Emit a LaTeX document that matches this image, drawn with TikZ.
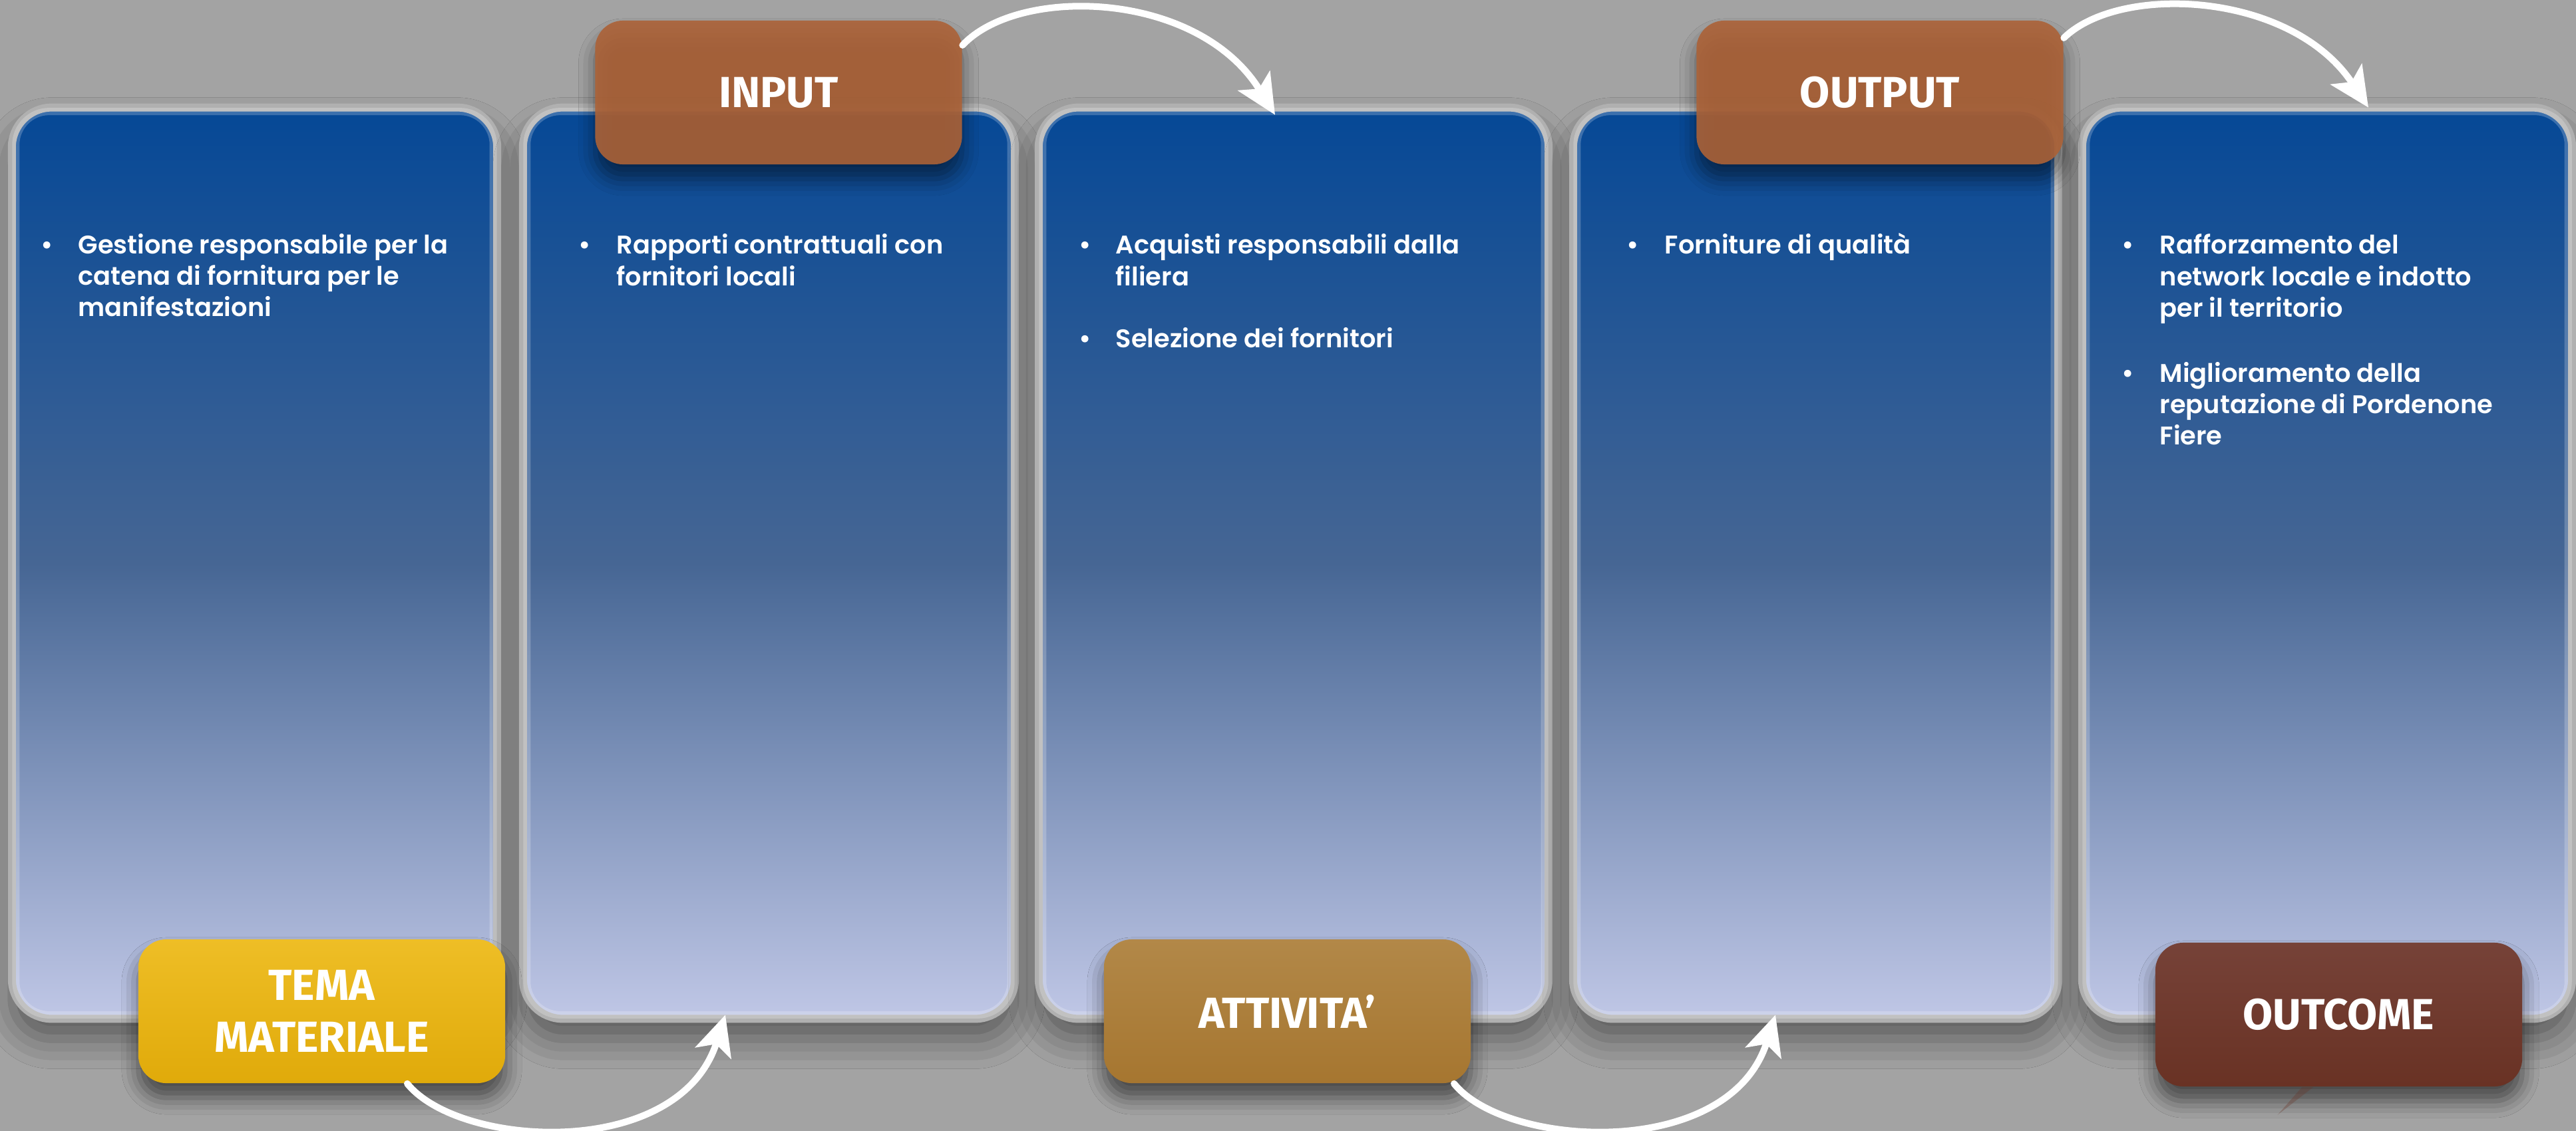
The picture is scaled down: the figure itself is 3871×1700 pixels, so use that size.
\documentclass[tikz,border=0pt]{standalone}
\usepackage{fontspec}
\setmainfont{Poppins}
\newfontfamily\bodyfont{Poppins}[UprightFont=* SemiBold]
\newfontfamily\labfont{Fira Sans}
\usetikzlibrary{shadows.blur,arrows.meta,calc}
\definecolor{bgc}{RGB}{163,163,163}
\definecolor{rimc}{RGB}{176,176,176}
\definecolor{ctop}{RGB}{5,72,150}
\definecolor{cmid}{RGB}{70,102,148}
\definecolor{cbot}{RGB}{192,199,230}
\definecolor{inputc}{RGB}{172,98,55}
\definecolor{temat}{RGB}{238,190,38}
\definecolor{temab}{RGB}{224,170,10}
\definecolor{attt}{RGB}{178,136,72}
\definecolor{attb}{RGB}{166,118,48}
\definecolor{outct}{RGB}{118,66,56}
\definecolor{outcb}{RGB}{105,50,36}
\newcommand\mylines[1]{\begin{tabular}[t]{@{}l@{}}#1\end{tabular}}
\begin{document}
\begin{tikzpicture}[x=0.01cm,y=-0.01cm,
  card/.style={rounded corners=0.6cm, draw=rimc, line width=0.12cm,
    top color=ctop, bottom color=cbot, middle color=cmid, inner sep=0,
    blur shadow={shadow xshift=0cm, shadow yshift=-0.3cm, shadow blur radius=0.45cm, shadow opacity=45}},
  glow/.style={draw=white, draw opacity=0.22, line width=0.11cm, rounded corners=0.5cm},
  lab/.style={rounded corners=0.42cm, minimum width=5.51cm, minimum height=2.16cm,
    inner sep=0, text=white, align=center,
    font=\labfont\bfseries\fontsize{18.6}{22.3}\selectfont,
    blur shadow={shadow xshift=0cm, shadow yshift=-0.22cm, shadow blur radius=0.25cm, shadow opacity=55}},
  bodytext/.style={anchor=base west, inner sep=0, text=white,
    font=\bodyfont\fontsize{10.9}{13.37}\selectfont},
  flow/.style={draw=white, line width=0.1cm, line cap=round,
    -{Stealth[length=0.6cm,width=0.56cm,inset=0.14cm]}}
]
\useasboundingbox (0,0) rectangle (3871,1700);
\fill[bgc] (0,0) rectangle (3871,1700);

% cards
\node[card, minimum width=7.29cm, minimum height=13.69cm] (c1) at (382.5,846.5) {};
\node[card, minimum width=7.39cm, minimum height=13.69cm] (c2) at (1155.5,846.5) {};
\node[card, minimum width=7.66cm, minimum height=13.69cm] (c3) at (1944,846.5) {};
\node[card, minimum width=7.29cm, minimum height=13.69cm] (c4) at (2728.5,846.5) {};
\node[card, minimum width=7.36cm, minimum height=13.69cm] (c5) at (3497,846.5) {};
\foreach \c in {c1,c2,c3,c4,c5}{
  \draw[glow] ([shift={(12,-12)}]\c.south west) rectangle ([shift={(-12,12)}]\c.north east);
}

% card texts
\node[bodytext] (b1) at (61,381) {•};
\node[bodytext] (t1) at (117,381) {\mylines{Gestione responsabile per la\\catena di fornitura per le\\manifestazioni}};
\node[bodytext] (b2) at (869,382) {•};
\node[bodytext] (t2) at (926,382) {\mylines{Rapporti contrattuali con\\fornitori locali}};
\node[bodytext] (b3) at (1621,382) {•};
\node[bodytext] (t3) at (1676,382) {\mylines{Acquisti responsabili dalla\\filiera}};
\node[bodytext] (b3b) at (1621,522) {•};
\node[bodytext] (t3b) at (1676,522) {Selezione dei fornitori};
\node[bodytext] (b4) at (2444,382) {•};
\node[bodytext] (t4) at (2501,382) {Forniture di qualità};
\node[bodytext] (b5) at (3188,382) {•};
\node[bodytext] (t5) at (3245,382) {\mylines{Rafforzamento del\\network locale e indotto\\per il territorio}};
\node[bodytext] (b5b) at (3188,574) {•};
\node[bodytext] (t5b) at (3245,574) {\mylines{Miglioramento della\\reputazione di Pordenone\\Fiere}};

% label boxes
\node[lab, fill=inputc, fill opacity=0.9, text opacity=1] (input) at (1170,139) {INPUT};
\node[lab, fill=inputc, fill opacity=0.9, text opacity=1] (output) at (2825,139) {OUTPUT};
\node[lab, top color=temat, bottom color=temab] (tema) at (483.5,1520) {TEMA\\MATERIALE};
\node[lab, top color=attt, bottom color=attb] (att) at (1934.5,1520) {ATTIVITA’};
\node[lab, top color=outct, bottom color=outcb] (outcome) at (3514.5,1525) {OUTCOME};
\fill[outcb, opacity=0.3] ($(outcome.south)+(-55,0)$) -- ($(outcome.south)+(-38,0)$) -- ($(outcome.south)+(-92,42)$) -- cycle;

% arrows
\coordinate (a1s) at ($(tema.south)+(128.5,0)$);
\coordinate (a1e) at ($(c2.south)+(-65.5,-12)$);
\draw[flow] (a1s) .. controls +(78,97) and +(-70,220) .. (a1e);
\coordinate (a2s) at ($(input.east)+(0,-71)$);
\coordinate (a2e) at ($(c3.north)+(-28,17)$);
\draw[flow] (a2s) .. controls +(84,-90) and +(-116,-188) .. (a2e);
\coordinate (a3s) at ($(att.south)+(250.5,0)$);
\coordinate (a3e) at ($(c4.south)+(-60.5,-12)$);
\draw[flow] (a3s) .. controls +(78,97) and +(-70,220) .. (a3e);
\coordinate (a4s) at ($(output.east)+(0,-82)$);
\coordinate (a4e) at ($(c5.north)+(62,6)$);
\draw[flow] (a4s) .. controls +(84,-82) and +(-116,-175) .. (a4e);
\end{tikzpicture}
\end{document}
